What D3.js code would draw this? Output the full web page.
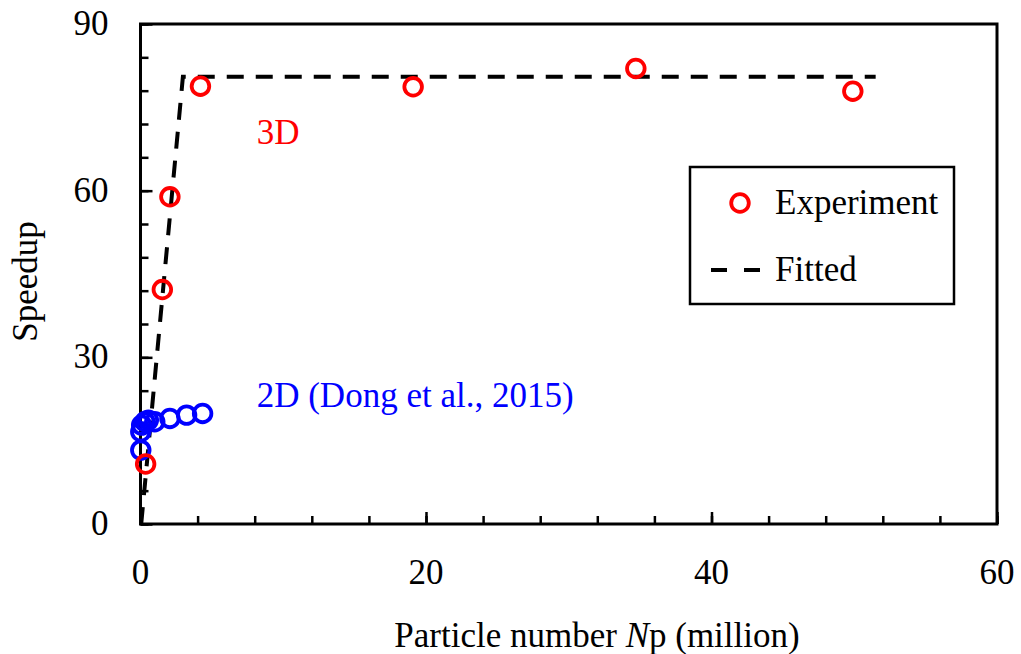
<!DOCTYPE html>
<html>
<head>
<meta charset="utf-8">
<script src="https://cdn.jsdelivr.net/npm/d3@7"></script>
<style>
  body { margin: 0; background: #fff; }
  text { font-family: "Liberation Serif", "Times New Roman", serif; }
</style>
</head>
<body>
<div id="chart"></div>
<script>
// dados
const exp3dX = [0.36, 1.53, 2.06, 4.2, 19.1, 34.7, 49.9];
const exp3dY = [10.8, 42.2, 58.9, 78.8, 78.7, 82.0, 77.9];

const exp2dX = [0.02, 0.02, 0.08, 0.31, 0.55, 1.0, 2.06, 3.23, 4.35];
const exp2dY = [13.3, 16.6, 17.8, 18.4, 18.7, 18.4, 19.0, 19.6, 19.9];

const fitX = [0.05, 2.97, 51.5];
const fitY = [0, 80.5, 80.5];

const xTicks = [0, 20, 40, 60];
const yTicks = [0, 30, 60, 90];

const config = { div: "#chart", left: 140.5, top: 24, width: 856.5, height: 500, W: 1021, H: 654 };
const fs = 35;

const svg = d3.select(config.div).append("svg")
  .attr("width", config.W)
  .attr("height", config.H);

const g = svg.append("g")
  .attr("transform", `translate(${config.left},${config.top})`);

const x = d3.scaleLinear().domain([0, 60]).range([0, config.width]);
const y = d3.scaleLinear().domain([0, 90]).range([config.height, 0]);

// ticks para dentro: menores e maiores
function ticks(axis, values, size) {
  return axis.tickValues(values).tickSize(-size).tickFormat("");
}
g.append("g").attr("transform", `translate(0,${config.height})`)
  .call(ticks(d3.axisBottom(x), d3.range(0, 61, 4), 8));
g.append("g").attr("transform", `translate(0,${config.height})`)
  .call(ticks(d3.axisBottom(x), xTicks, 12));
g.append("g").call(ticks(d3.axisLeft(y), d3.range(0, 91, 6), 8));
g.append("g").call(ticks(d3.axisLeft(y), yTicks, 12));
g.selectAll(".domain").remove();
g.selectAll(".tick line").attr("stroke", "#000").attr("stroke-width", 2.5);

// moldura
g.append("rect")
  .attr("width", config.width).attr("height", config.height)
  .attr("fill", "none").attr("stroke", "#000").attr("stroke-width", 3);

// rótulos dos eixos
g.selectAll(".xl").data(xTicks).join("text")
  .attr("x", d => x(d)).attr("y", config.height + 60)
  .attr("text-anchor", "middle").attr("font-size", fs).text(d => d);
g.selectAll(".yl").data(yTicks).join("text")
  .attr("x", -32).attr("y", d => y(d) + 11)
  .attr("text-anchor", "end").attr("font-size", fs).text(d => d);

const xt = g.append("text")
  .attr("x", 456.5).attr("y", config.height + 123)
  .attr("text-anchor", "middle").attr("font-size", fs);
xt.append("tspan").text("Particle number ");
xt.append("tspan").attr("font-style", "italic").text("N");
xt.append("tspan").text("p (million)");

g.append("text")
  .attr("transform", `translate(-103.5,257.5) rotate(-90)`)
  .attr("text-anchor", "middle").attr("font-size", fs).text("Speedup");

// linha ajustada
g.append("path")
  .datum(d3.zip(fitX, fitY))
  .attr("d", d3.line().x(d => x(d[0])).y(d => y(d[1])))
  .attr("fill", "none").attr("stroke", "#000")
  .attr("stroke-width", 4).attr("stroke-dasharray", "17,12");

// pontos
g.selectAll(".p2").data(d3.zip(exp2dX, exp2dY)).join("circle")
  .attr("cx", d => x(d[0])).attr("cy", d => y(d[1])).attr("r", 8.8)
  .attr("fill", "none").attr("stroke", "#0000ff").attr("stroke-width", 3.8);
g.selectAll(".p3").data(d3.zip(exp3dX, exp3dY)).join("circle")
  .attr("cx", d => x(d[0])).attr("cy", d => y(d[1])).attr("r", 8.8)
  .attr("fill", "none").attr("stroke", "#ff0000").attr("stroke-width", 3.8);

// anotações
g.append("text").attr("x", 256.7 - config.left).attr("y", 144 - config.top)
  .attr("font-size", fs).attr("fill", "#ff0000").text("3D");
g.append("text").attr("x", 256.7 - config.left).attr("y", 407 - config.top)
  .attr("font-size", fs).attr("fill", "#0000ff").text("2D (Dong et al., 2015)");

// legenda
const lg = svg.append("g").attr("transform", "translate(690,167)");
lg.append("rect").attr("width", 264).attr("height", 137)
  .attr("fill", "#fff").attr("stroke", "#000").attr("stroke-width", 2.5);
lg.append("circle").attr("cx", 50).attr("cy", 36).attr("r", 8.8)
  .attr("fill", "none").attr("stroke", "#ff0000").attr("stroke-width", 3.8);
lg.append("text").attr("x", 85).attr("y", 47).attr("font-size", fs).text("Experiment");
lg.append("line").attr("x1", 21).attr("x2", 71).attr("y1", 103).attr("y2", 103)
  .attr("stroke", "#000").attr("stroke-width", 4).attr("stroke-dasharray", "16,17");
lg.append("text").attr("x", 85).attr("y", 114).attr("font-size", fs).text("Fitted");
</script>
</body>
</html>
